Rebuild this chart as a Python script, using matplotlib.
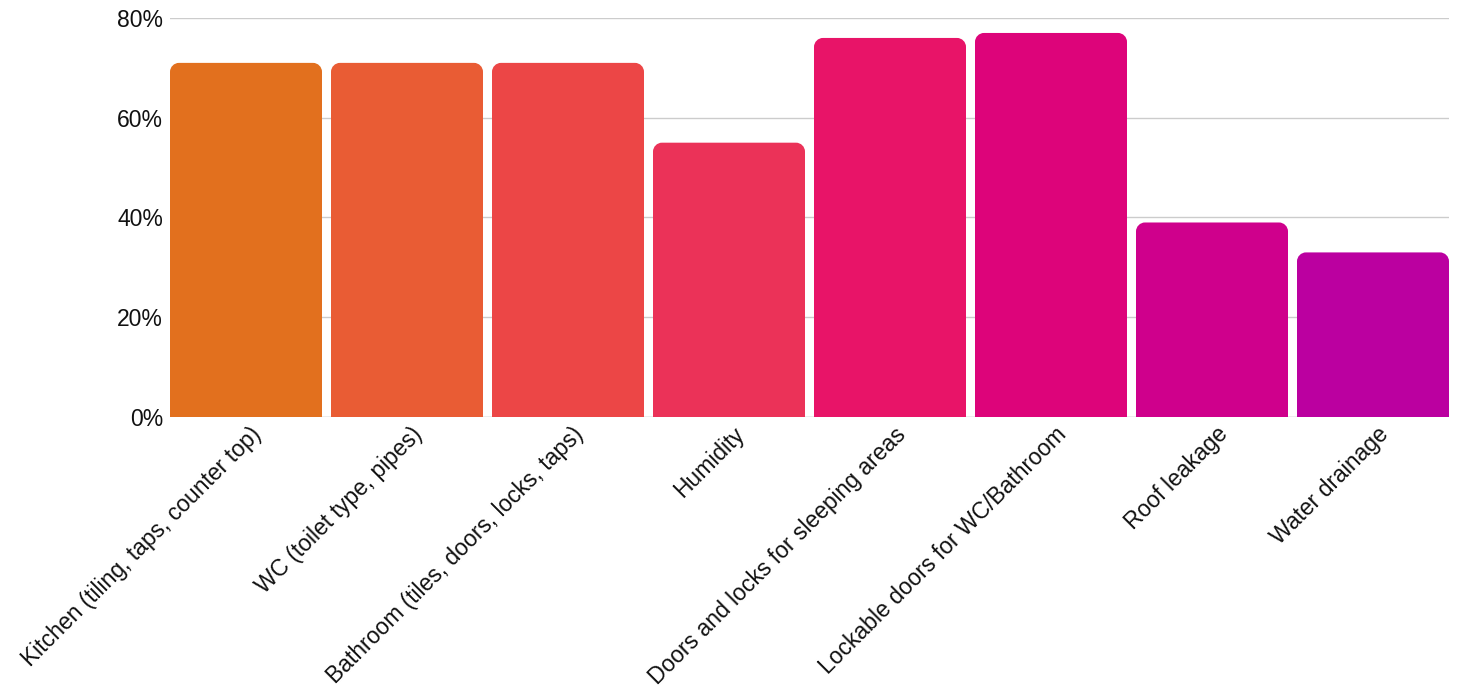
import matplotlib
matplotlib.use("Agg")
import matplotlib.pyplot as plt
import matplotlib.transforms as mtransforms
from matplotlib.path import Path
from matplotlib.patches import PathPatch
from matplotlib.ticker import FuncFormatter

plt.rcParams['font.family'] = ['Liberation Sans', 'DejaVu Sans']

categories = [
    "Kitchen (tiling, taps, counter top)",
    "WC (toilet type, pipes)",
    "Bathroom (tiles, doors, locks, taps)",
    "Humidity",
    "Doors and locks for sleeping areas",
    "Lockable doors for WC/Bathroom",
    "Roof leakage",
    "Water drainage",
]
values = [71, 71, 71, 55, 76, 77, 39, 33]
colors = ["#E2701E", "#E95C34", "#EC4646", "#EB3258",
          "#E81468", "#DD047A", "#CF008C", "#BB00A0"]
yticks = [0, 20, 40, 60, 80]

W, H, DPI = 1458, 690, 100
fig = plt.figure(figsize=(W / DPI, H / DPI), dpi=DPI)
ax_l, ax_r, ax_t, ax_b = 170, 1449, 18, 417
ax = fig.add_axes([ax_l / W, (H - ax_b) / H, (ax_r - ax_l) / W, (ax_b - ax_t) / H])

bw = 152 / 161
n = len(categories)
ax.set_xlim(-bw / 2, n - 1 + bw / 2)
ax.set_ylim(0, 80)

px_per_x = (ax_r - ax_l) / (n - 1 + bw)
px_per_y = (ax_b - ax_t) / 80
r_px = 9
rx, ry = r_px / px_per_x, r_px / px_per_y
k = 0.5523

bars = ax.bar(range(n), values, width=bw, color=colors, zorder=2)
for b, c in zip(bars, colors):
    x0, y0 = b.get_x(), b.get_y()
    x1, y1 = x0 + b.get_width(), y0 + b.get_height()
    verts = [
        (x0, y0), (x0, y1 - ry),
        (x0, y1 - ry + k * ry), (x0 + rx - k * rx, y1), (x0 + rx, y1),
        (x1 - rx, y1),
        (x1 - rx + k * rx, y1), (x1, y1 - ry + k * ry), (x1, y1 - ry),
        (x1, y0), (x0, y0),
    ]
    codes = [Path.MOVETO, Path.LINETO,
             Path.CURVE4, Path.CURVE4, Path.CURVE4,
             Path.LINETO,
             Path.CURVE4, Path.CURVE4, Path.CURVE4,
             Path.LINETO, Path.CLOSEPOLY]
    b.set_visible(False)
    ax.add_patch(PathPatch(Path(verts, codes), facecolor=c, edgecolor='none', zorder=2))

fs = 16.5
ax.set_yticks(yticks)
ax.yaxis.set_major_formatter(FuncFormatter(lambda v, p: f"{int(v)}%"))
ax.grid(axis='y', color='#cccccc', linewidth=1, zorder=0)
ax.axhline(0, color='#cccccc', linewidth=1, zorder=1)
for s in ax.spines.values():
    s.set_visible(False)
ax.tick_params(axis='both', length=0, labelsize=fs, colors='#111111')
ax.tick_params(axis='y', pad=5)
ax.set_xticks(range(n))
ax.set_xticklabels(categories, rotation=45, ha='right', va='center',
                   rotation_mode='anchor', fontsize=fs, color='#111111')
ax.tick_params(axis='x', pad=10)
offset = mtransforms.ScaledTranslation(12 / DPI, 0, fig.dpi_scale_trans)
for lbl in ax.get_xticklabels():
    lbl.set_transform(lbl.get_transform() + offset)

fig.savefig("out.png", dpi=DPI)
